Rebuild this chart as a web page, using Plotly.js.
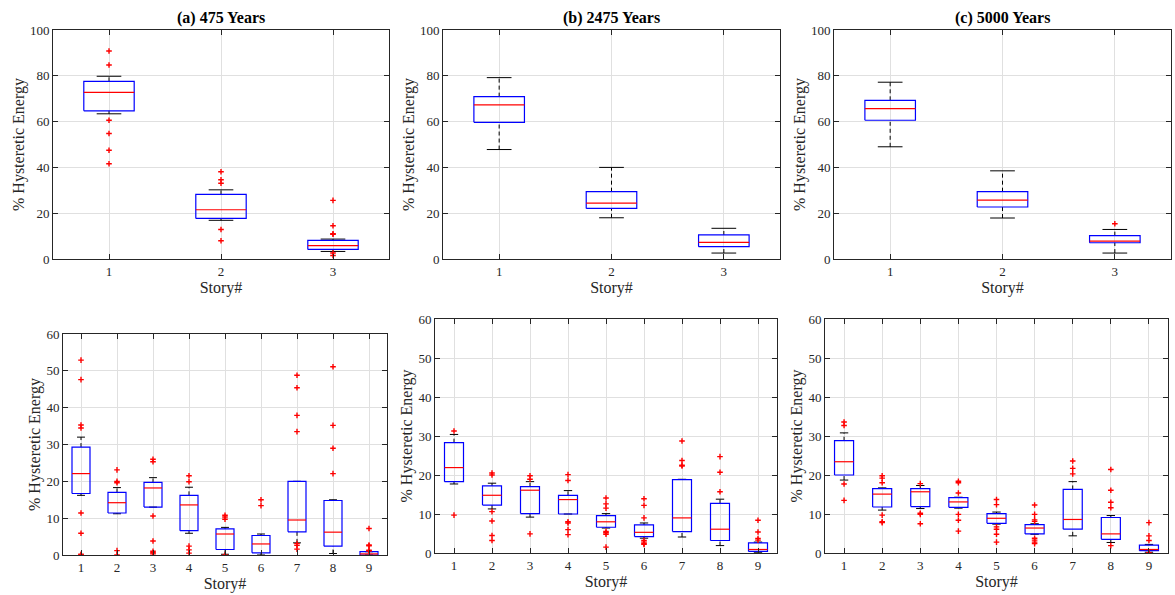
<!DOCTYPE html>
<html>
<head>
<meta charset="utf-8">
<script src="https://cdn.plot.ly/plotly-3.0.1.min.js"></script>
<style>html,body{margin:0;padding:0;background:#fff;}#chart{width:1175px;height:595px;}</style>
</head>
<body>
<div id="chart"></div>
<script>
// ---------- DATA ----------
const storiesTop = [1, 2, 3];
const storiesBot = [1, 2, 3, 4, 5, 6, 7, 8, 9];
const panelTitles = ['(a) 475 Years', '(b) 2475 Years', '(c) 5000 Years'];
const yTicksTop = [0, 20, 40, 60, 80, 100];
const yTicksBot = [0, 10, 20, 30, 40, 50, 60];

// Top row (3 stories)
const a3_q1  = [64.7, 17.7, 4.2];
const a3_med = [72.8, 21.5, 5.8];
const a3_q3  = [77.6, 28.2, 8.1];
const a3_lo  = [63.4, 16.9, 3.3];
const a3_hi  = [79.8, 30.2, 8.7];
const a3_out = [[90.8, 84.7, 60.6, 54.8, 47.5, 41.6], [38.1, 34.6, 33.1, 12.9, 8.0], [25.6, 14.5, 11.0, 10.8, 2.6, 1.5]];

const b3_q1  = [59.7, 22.1, 5.4];
const b3_med = [67.3, 24.4, 7.3];
const b3_q3  = [70.9, 29.4, 10.5];
const b3_lo  = [47.8, 18.0, 2.6];
const b3_hi  = [79.2, 40.0, 13.4];
const b3_out = [[], [], []];

const c3_q1  = [60.6, 22.7, 7.1];
const c3_med = [65.7, 25.7, 7.8];
const c3_q3  = [69.3, 29.4, 10.2];
const c3_lo  = [49.0, 17.9, 2.6];
const c3_hi  = [77.2, 38.5, 12.9];
const c3_out = [[], [], [15.4]];

// Bottom row (9 stories)
const a9_q1  = [16.7, 11.4, 13.0, 6.6, 1.5, 0.6, 6.3, 2.4, 0.0];
const a9_med = [22.1, 14.2, 18.2, 13.6, 5.7, 3.0, 9.5, 6.2, 0.3];
const a9_q3  = [29.3, 17.0, 19.7, 16.2, 7.1, 5.3, 20.0, 14.8, 0.9];
const a9_lo  = [16.2, 11.2, 13.0, 5.9, 0.2, 0.0, 3.3, 0.4, 0.0];
const a9_hi  = [32.0, 18.3, 21.0, 18.4, 7.5, 5.7, 20.0, 15.0, 0.9];
const a9_out = [[52.9, 47.6, 35.3, 34.5, 11.4, 5.9, 0.2, 0.0], [23.1, 20.0, 19.6, 1.2, 0.0], [26.0, 25.3, 10.6, 3.8, 1.0, 0.6, 0.3],
                [21.5, 19.9, 2.4, 1.4, 0.5], [10.8, 10.3, 9.7, 0.0], [15.0, 13.4], [48.8, 45.4, 37.9, 33.5, 3.1, 2.6, 1.6],
                [51.1, 35.2, 29.0, 22.1], [7.2, 2.7, 2.5, 1.3, 1.1]];

const b9_q1  = [18.3, 12.3, 10.1, 10.0, 6.6, 4.2, 5.5, 3.2, 0.4];
const b9_med = [21.9, 14.8, 16.1, 13.7, 8.0, 5.3, 9.0, 6.1, 0.9];
const b9_q3  = [28.3, 17.2, 17.0, 14.8, 9.6, 7.2, 18.8, 12.7, 2.6];
const b9_lo  = [17.7, 11.3, 9.2, 10.0, 6.4, 3.8, 4.1, 1.9, 0.2];
const b9_hi  = [30.4, 17.9, 18.3, 16.0, 10.1, 7.7, 18.9, 13.8, 2.8];
const b9_out = [[31.3, 9.7], [20.5, 20.0, 10.6, 8.2, 4.5, 3.2], [19.8, 18.9, 4.9], [20.1, 18.6, 8.0, 7.7, 6.0, 4.7],
                [14.1, 12.6, 11.5, 5.5, 5.2, 4.8, 1.5], [13.9, 12.2, 9.0, 3.2, 2.8, 2.4, 2.2], [28.7, 23.7, 22.5, 22.3],
                [24.7, 20.7, 15.7], [8.4, 5.4, 3.7, 3.3]];

const c9_q1  = [20.0, 11.8, 11.9, 11.7, 7.6, 4.9, 6.1, 3.5, 0.6];
const c9_med = [23.4, 15.1, 15.7, 13.1, 8.9, 6.4, 8.6, 4.9, 0.9];
const c9_q3  = [28.8, 16.5, 16.5, 14.2, 10.1, 7.3, 16.3, 9.1, 2.0];
const c9_lo  = [18.7, 11.0, 11.4, 11.5, 7.4, 4.8, 4.4, 2.7, 0.2];
const c9_hi  = [30.8, 16.7, 17.3, 14.3, 10.5, 7.5, 18.3, 9.6, 2.2];
const c9_out = [[33.6, 32.7, 17.7, 13.5], [19.8, 19.2, 18.0, 9.7, 8.0, 7.8], [17.8, 10.2, 9.9, 7.5], [18.4, 18.0, 15.4, 9.9, 8.4, 5.6],
                [13.7, 12.4, 6.7, 6.1, 4.8, 2.8], [12.3, 9.9, 8.5, 8.1, 3.8, 3.3, 2.8, 2.4], [23.6, 21.7, 20.3],
                [21.4, 16.1, 13.0, 11.6, 1.9], [7.8, 4.4, 3.2, 0.1]];

// ---------- BUILD ----------
const W = 1175, H = 595;
const traces = [];
const layout = {
  width: W, height: H, margin: {l: 0, r: 0, t: 0, b: 0},
  paper_bgcolor: '#fff', plot_bgcolor: '#fff', showlegend: false,
  font: {family: 'Liberation Serif, Times New Roman, serif', color: '#262626', size: 13},
  annotations: []
};

function addPanel(n, cats, q1, med, q3, lo, hi, out, halfW, capW) {
  const xa = n === 1 ? 'x' : 'x' + n, ya = n === 1 ? 'y' : 'y' + n;
  const bx = [], by = [], mx = [], my = [], wx = [], wy = [], cx = [], cy = [], ox = [], oy = [];
  cats.forEach((c, i) => {
    bx.push(c - halfW, c + halfW, c + halfW, c - halfW, c - halfW, null);
    by.push(q1[i], q1[i], q3[i], q3[i], q1[i], null);
    mx.push(c - halfW, c + halfW, null); my.push(med[i], med[i], null);
    wx.push(c, c, null, c, c, null); wy.push(q3[i], hi[i], null, lo[i], q1[i], null);
    cx.push(c - capW, c + capW, null, c - capW, c + capW, null); cy.push(hi[i], hi[i], null, lo[i], lo[i], null);
    out[i].forEach(v => { ox.push(c); oy.push(v); });
  });
  const base = {xaxis: xa, yaxis: ya, type: 'scatter', mode: 'lines', hoverinfo: 'skip'};
  traces.push(Object.assign({}, base, {x: wx, y: wy, line: {color: '#000', width: 1, dash: '4px,3px'}}));
  traces.push(Object.assign({}, base, {x: cx, y: cy, line: {color: '#000', width: 1}}));
  traces.push(Object.assign({}, base, {x: bx, y: by, line: {color: '#0000ff', width: 1.2}}));
  traces.push(Object.assign({}, base, {x: mx, y: my, line: {color: '#ff0000', width: 1.2}}));
  traces.push(Object.assign({}, base, {x: ox, y: oy, mode: 'markers',
    marker: {symbol: 'cross-thin', size: 4, color: '#ff0000', line: {color: '#ff0000', width: 1.4}}}));
}

function axes(n, px0, px1, py0, py1, nCats, yTicks, title) {
  const xk = n === 1 ? 'xaxis' : 'xaxis' + n, yk = n === 1 ? 'yaxis' : 'yaxis' + n;
  const xa = n === 1 ? 'x' : 'x' + n, ya = n === 1 ? 'y' : 'y' + n;
  const common = {showline: true, linecolor: '#262626', linewidth: 1, mirror: 'ticks', ticks: 'inside', ticklen: 5,
    tickcolor: '#262626', showgrid: true, gridcolor: '#e0e0e0', gridwidth: 1, zeroline: false,
    tickfont: {family: 'Liberation Serif, serif', size: 13, color: '#262626'}, fixedrange: true};
  layout[xk] = Object.assign({}, common, {domain: [px0 / W, px1 / W], anchor: ya, range: [0.5, nCats + 0.5],
    tickmode: 'linear', tick0: 1, dtick: 1,
    title: {text: 'Story#', font: {family: 'Liberation Serif, serif', size: 16, color: '#262626'}, standoff: 3}});
  layout[yk] = Object.assign({}, common, {domain: [1 - py1 / H, 1 - py0 / H], anchor: xa,
    range: [yTicks[0], yTicks[yTicks.length - 1]], tickmode: 'array', tickvals: yTicks,
    title: {text: '% Hysteretic Energy', font: {family: 'Liberation Serif, serif', size: 16, color: '#262626'}, standoff: 1}});
  if (title) {
    layout.annotations.push({text: '<b>' + title + '</b>', xref: 'paper', yref: 'paper',
      x: (px0 + px1) / 2 / W, y: 1 - 18 / H, xanchor: 'center', yanchor: 'middle', showarrow: false,
      font: {family: 'Liberation Serif, serif', size: 16, color: '#000'}});
  }
}

addPanel(1, storiesTop, a3_q1, a3_med, a3_q3, a3_lo, a3_hi, a3_out, 0.225, 0.11);
addPanel(2, storiesTop, b3_q1, b3_med, b3_q3, b3_lo, b3_hi, b3_out, 0.225, 0.11);
addPanel(3, storiesTop, c3_q1, c3_med, c3_q3, c3_lo, c3_hi, c3_out, 0.225, 0.11);
addPanel(4, storiesBot, a9_q1, a9_med, a9_q3, a9_lo, a9_hi, a9_out, 0.25, 0.11);
addPanel(5, storiesBot, b9_q1, b9_med, b9_q3, b9_lo, b9_hi, b9_out, 0.25, 0.11);
addPanel(6, storiesBot, c9_q1, c9_med, c9_q3, c9_lo, c9_hi, c9_out, 0.25, 0.11);

axes(1, 53, 389, 30, 259, 3, yTicksTop, panelTitles[0]);
axes(2, 443, 780, 30, 259, 3, yTicksTop, panelTitles[1]);
axes(3, 834, 1171, 30, 259, 3, yTicksTop, panelTitles[2]);
axes(4, 63, 387, 334, 555, 9, yTicksBot, null);
axes(5, 435, 777, 319, 553, 9, yTicksBot, null);
axes(6, 825, 1168, 319, 553, 9, yTicksBot, null);

Plotly.newPlot('chart', traces, layout, {staticPlot: true, displayModeBar: false});
</script>
</body>
</html>
